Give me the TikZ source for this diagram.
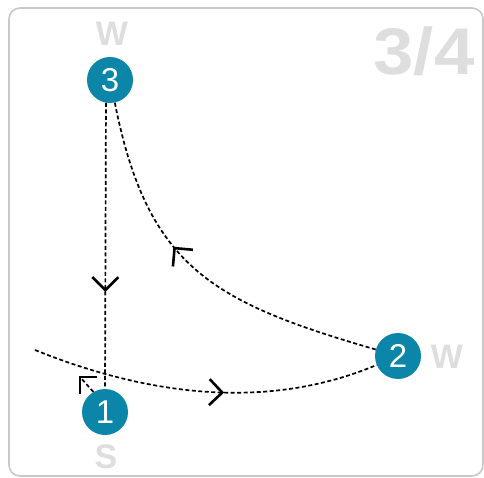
\documentclass[tikz,border=0pt]{standalone}
\usepackage{fontspec}
\setmainfont{Liberation Sans}
\usetikzlibrary{decorations.markings}
\definecolor{nodeblue}{HTML}{0B86A9}
\definecolor{lightlbl}{HTML}{DEDEDE}
\definecolor{framegray}{HTML}{C8C8C8}
\tikzset{
  state/.style={circle, fill=nodeblue, minimum size=46pt, inner sep=0pt, text=white,
    font=\fontsize{33}{33}\selectfont},
  lbl/.style={text=lightlbl, font=\bfseries\fontsize{34}{34}\selectfont, inner sep=0pt},
  path/.style={dash pattern=on 4pt off 2.5pt, line width=1.7pt},
  chev/.style={solid, line width=2.6pt},
  arrowat/.style={postaction={decorate}, decoration={markings,
    mark=at position #1 with {\draw[chev] (-13,13) -- (0,0) -- (-13,-13);}}}
}
\begin{document}
\begin{tikzpicture}[x=1pt,y=-1pt]
\useasboundingbox (0,0) rectangle (484,478);
\draw[framegray, line width=1.6pt, rounded corners=11pt] (9,8) rectangle (483,476);
\node[text=lightlbl, font=\bfseries\fontsize{66}{66}\selectfont, xscale=1.1, inner sep=0pt] (frac) at (424,51) {3/4};
\node[state] (n3) at (110,80) {3};
\node[state] (n2) at (398,356) {2};
\node[state] (n1) at (105,412) {1};
\node[lbl] (w3) at (112,34) {W};
\node[lbl] (w2) at (447,357) {W};
\node[lbl] (s1) at (106,457) {S};
\coordinate (start) at (35,350);
\coordinate (tip) at (80,377);
% 3 -> 1
\draw[path, arrowat=0.655] (n3.-100) -- (n1.north);
% 2 -> 3
\draw[path, arrowat=0.59] (n2) .. controls (213.5,302.3) and (147.7,268.6) .. (n3.-78);
% 1 -> 2
\draw[path, arrowat=0.55] (start) .. controls (164,402) and (279,406) .. (n2);
% short line from 1
\draw[path] (n1.120) -- (tip);
\draw[chev] (tip) ++(0,17) -- (tip) -- ++(17,0);
\end{tikzpicture}
\end{document}
